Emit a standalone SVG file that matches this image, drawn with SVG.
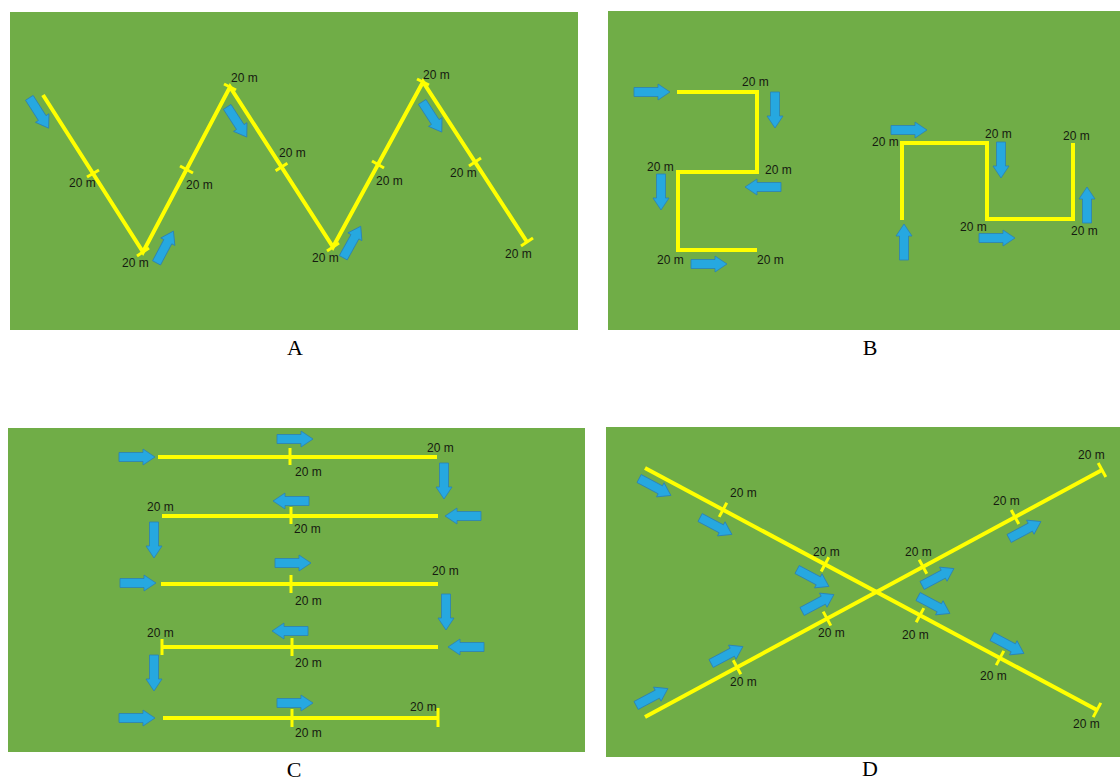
<svg xmlns="http://www.w3.org/2000/svg" width="1120" height="781" viewBox="0 0 1120 781">
<style>
.field{fill:#70ad47}
.track{stroke:#ffff00;stroke-width:4;fill:none;stroke-linejoin:miter}
.tick{stroke:#ffff00;stroke-width:3}
.lbl{font-family:"Liberation Sans",Arial,sans-serif;font-size:12px;fill:#151a10}
.cap{font-family:"Liberation Serif","Times New Roman",serif;font-size:22px;fill:#000;text-anchor:middle}
.arr{fill:#26a8e0;stroke:#2c80b4;stroke-width:0.8}
</style>
<defs>
<path id="arr" d="M-18,-4.5 H6 V-8 L18,0 L6,8 V4.5 H-18 Z"/>
</defs>
<rect width="1120" height="781" fill="#ffffff"/>

<g id="panelA">
<rect class="field" x="10" y="12" width="568" height="318"/>
<polyline class="track" points="43,95 143,252 230,87 333,247 423,82 527,242"/>
<g class="tick-set">
<line class="tick" x1="87" y1="177" x2="99" y2="170"/>
<line class="tick" x1="137" y1="256" x2="149" y2="248"/>
<line class="tick" x1="180" y1="166" x2="193" y2="173"/>
<line class="tick" x1="224" y1="84" x2="236" y2="90"/>
<line class="tick" x1="275.6" y1="170.8" x2="287.4" y2="163.2"/>
<line class="tick" x1="327" y1="251" x2="339" y2="243"/>
<line class="tick" x1="372" y1="161" x2="384" y2="168"/>
<line class="tick" x1="417" y1="79" x2="429" y2="85"/>
<line class="tick" x1="469" y1="166" x2="481" y2="158"/>
<line class="tick" x1="521" y1="246" x2="533" y2="238"/>
</g>
<use href="#arr" class="arr" transform="translate(39,113) rotate(57.5)"/>
<use href="#arr" class="arr" transform="translate(165,247) rotate(-62)"/>
<use href="#arr" class="arr" transform="translate(237,122) rotate(57)"/>
<use href="#arr" class="arr" transform="translate(352,242) rotate(-61)"/>
<use href="#arr" class="arr" transform="translate(432,117) rotate(57)"/>
<text class="lbl" x="69" y="187">20 m</text>
<text class="lbl" x="122" y="267">20 m</text>
<text class="lbl" x="231" y="82">20 m</text>
<text class="lbl" x="186" y="189">20 m</text>
<text class="lbl" x="279" y="157">20 m</text>
<text class="lbl" x="376" y="185">20 m</text>
<text class="lbl" x="312" y="262">20 m</text>
<text class="lbl" x="423" y="79">20 m</text>
<text class="lbl" x="450" y="177">20 m</text>
<text class="lbl" x="505" y="258">20 m</text>
</g>
<text class="cap" x="295" y="355">A</text>

<g id="panelB">
<rect class="field" x="608" y="11" width="512" height="319"/>
<polyline class="track" points="677,92 757,92 757,172 678,172 678,250 757,250"/>
<polyline class="track" points="902,220 902,143 987,143 987,219 1073,219 1073,143"/>
<use href="#arr" class="arr" transform="translate(652,92)"/>
<use href="#arr" class="arr" transform="translate(775,110) rotate(90)"/>
<use href="#arr" class="arr" transform="translate(763,187) rotate(180)"/>
<use href="#arr" class="arr" transform="translate(661,192) rotate(90)"/>
<use href="#arr" class="arr" transform="translate(709,264)"/>
<use href="#arr" class="arr" transform="translate(909,130)"/>
<use href="#arr" class="arr" transform="translate(1001,160) rotate(90)"/>
<use href="#arr" class="arr" transform="translate(904,242) rotate(-90)"/>
<use href="#arr" class="arr" transform="translate(997,238)"/>
<use href="#arr" class="arr" transform="translate(1087,205) rotate(-90)"/>
<text class="lbl" x="742" y="86">20 m</text>
<text class="lbl" x="647" y="171">20 m</text>
<text class="lbl" x="765" y="174">20 m</text>
<text class="lbl" x="657" y="264">20 m</text>
<text class="lbl" x="757" y="264">20 m</text>
<text class="lbl" x="872" y="146">20 m</text>
<text class="lbl" x="985" y="138">20 m</text>
<text class="lbl" x="1063" y="140">20 m</text>
<text class="lbl" x="960" y="231">20 m</text>
<text class="lbl" x="1071" y="235">20 m</text>
</g>
<text class="cap" x="870" y="355">B</text>

<g id="panelC">
<rect class="field" x="8" y="428" width="577" height="324"/>
<line class="track" x1="158" y1="457" x2="437" y2="457"/>
<line class="track" x1="162" y1="516" x2="438" y2="516"/>
<line class="track" x1="161" y1="584" x2="438" y2="584"/>
<line class="track" x1="162" y1="647" x2="438" y2="647"/>
<line class="track" x1="163" y1="718" x2="438" y2="718"/>
<line class="tick" x1="290" y1="448" x2="290" y2="465"/>
<line class="tick" x1="291" y1="507" x2="291" y2="524"/>
<line class="tick" x1="291" y1="575" x2="291" y2="593"/>
<line class="tick" x1="292" y1="638" x2="292" y2="656"/>
<line class="tick" x1="292" y1="709" x2="292" y2="727"/>
<line class="tick" x1="162" y1="639" x2="162" y2="655"/>
<line class="tick" x1="438" y1="708" x2="438" y2="727"/>
<use href="#arr" class="arr" transform="translate(137,457)"/>
<use href="#arr" class="arr" transform="translate(295,439)"/>
<use href="#arr" class="arr" transform="translate(444,481) rotate(90)"/>
<use href="#arr" class="arr" transform="translate(463,516) rotate(180)"/>
<use href="#arr" class="arr" transform="translate(291,501) rotate(180)"/>
<use href="#arr" class="arr" transform="translate(154,540) rotate(90)"/>
<use href="#arr" class="arr" transform="translate(138,583)"/>
<use href="#arr" class="arr" transform="translate(293,563)"/>
<use href="#arr" class="arr" transform="translate(446,612) rotate(90)"/>
<use href="#arr" class="arr" transform="translate(466,647) rotate(180)"/>
<use href="#arr" class="arr" transform="translate(290,631) rotate(180)"/>
<use href="#arr" class="arr" transform="translate(154,673) rotate(90)"/>
<use href="#arr" class="arr" transform="translate(137,718)"/>
<use href="#arr" class="arr" transform="translate(295,703)"/>
<text class="lbl" x="295" y="476">20 m</text>
<text class="lbl" x="427" y="452">20 m</text>
<text class="lbl" x="147" y="511">20 m</text>
<text class="lbl" x="294" y="533">20 m</text>
<text class="lbl" x="432" y="575">20 m</text>
<text class="lbl" x="295" y="605">20 m</text>
<text class="lbl" x="147" y="637">20 m</text>
<text class="lbl" x="295" y="667">20 m</text>
<text class="lbl" x="295" y="737">20 m</text>
<text class="lbl" x="410" y="711">20 m</text>
</g>
<text class="cap" x="294" y="777">C</text>

<g id="panelD">
<rect class="field" x="606" y="427" width="514" height="330"/>
<line class="track" x1="645" y1="468" x2="1097" y2="710"/>
<line class="track" x1="645" y1="717" x2="1102" y2="470"/>
<line class="tick" x1="726.8" y1="502.7" x2="719.2" y2="516.9"/>
<line class="tick" x1="828.8" y1="557.3" x2="821.2" y2="571.5"/>
<line class="tick" x1="923.8" y1="608.1" x2="916.2" y2="622.3"/>
<line class="tick" x1="1003.8" y1="650.9" x2="996.2" y2="665.1"/>
<line class="tick" x1="1100.8" y1="702.9" x2="1093.2" y2="717.1"/>
<line class="tick" x1="733.2" y1="660.3" x2="740.8" y2="674.3"/>
<line class="tick" x1="823.2" y1="611.6" x2="830.8" y2="625.6"/>
<line class="tick" x1="919.2" y1="559.7" x2="926.8" y2="573.7"/>
<line class="tick" x1="1011.2" y1="510" x2="1018.8" y2="524"/>
<line class="tick" x1="1098.2" y1="463" x2="1105.8" y2="477"/>
<use href="#arr" class="arr" transform="translate(655,487) rotate(28)"/>
<use href="#arr" class="arr" transform="translate(716,526) rotate(28)"/>
<use href="#arr" class="arr" transform="translate(813,578) rotate(28)"/>
<use href="#arr" class="arr" transform="translate(934,605) rotate(28)"/>
<use href="#arr" class="arr" transform="translate(1008,645) rotate(28)"/>
<use href="#arr" class="arr" transform="translate(652,697) rotate(-28)"/>
<use href="#arr" class="arr" transform="translate(727,655) rotate(-28)"/>
<use href="#arr" class="arr" transform="translate(818,603) rotate(-28)"/>
<use href="#arr" class="arr" transform="translate(938,577) rotate(-28)"/>
<use href="#arr" class="arr" transform="translate(1025,530) rotate(-28)"/>
<text class="lbl" x="730" y="497">20 m</text>
<text class="lbl" x="813" y="556">20 m</text>
<text class="lbl" x="1078" y="459">20 m</text>
<text class="lbl" x="993" y="505">20 m</text>
<text class="lbl" x="905" y="556">20 m</text>
<text class="lbl" x="730" y="686">20 m</text>
<text class="lbl" x="818" y="637">20 m</text>
<text class="lbl" x="902" y="639">20 m</text>
<text class="lbl" x="980" y="680">20 m</text>
<text class="lbl" x="1073" y="728">20 m</text>
</g>
<text class="cap" x="870" y="776">D</text>
</svg>
